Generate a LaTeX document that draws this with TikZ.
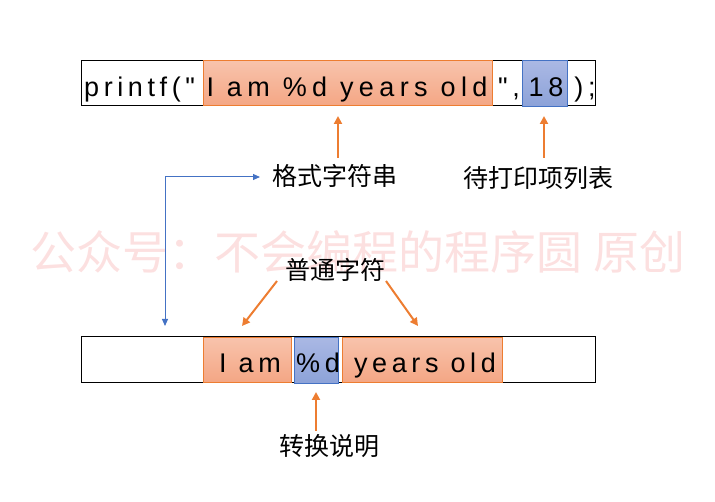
\documentclass[tikz,border=0pt]{standalone}
\usepackage{fontspec}
\usetikzlibrary{arrows.meta}
\newfontfamily\cjk{Noto Sans CJK SC}
\newfontfamily\codefont[LetterSpace=17]{Liberation Sans}
\newfontfamily\codewide[LetterSpace=20]{Liberation Sans}
\definecolor{ora}{RGB}{237,125,49}
\definecolor{blu}{RGB}{68,114,196}
\definecolor{otop}{RGB}{248,195,172}
\definecolor{obot}{RGB}{244,166,132}
\definecolor{btop}{RGB}{170,184,228}
\definecolor{bbot}{RGB}{140,162,216}
\definecolor{wm}{RGB}{252,224,224}
\begin{document}
\begin{tikzpicture}[x=1pt,y=-1pt,
  frame/.style={draw=black,line width=1pt,inner sep=0,outer sep=0},
  obox/.style={draw=ora,line width=1pt,top color=otop,bottom color=obot,inner sep=0,outer sep=0},
  bbox/.style={draw=blu,line width=1pt,top color=btop,bottom color=bbot,inner sep=0,outer sep=0},
  code/.style={font=\codefont\fontsize{27}{27}\selectfont,inner sep=0},
  codew/.style={font=\codewide\fontsize{27}{27}\selectfont,inner sep=0},
  lbl/.style={font=\cjk\fontsize{25}{25}\selectfont,inner sep=0},
  oarr/.style={draw=ora,line width=2pt,-{Triangle[length=8pt,width=8pt]}},
  barr/.style={draw=blu,line width=1pt,{Triangle[length=7pt,width=6pt]}-{Triangle[length=7pt,width=6pt]}}]
\useasboundingbox (0,0) rectangle (715,502);
% watermark
\node[font=\cjk\fontsize{46}{46}\selectfont,text=wm,inner sep=0] (wmark) at (358,252) {公众号：不会编程的程序圆 原创};
% top row
\node[frame,minimum width=514,minimum height=45] (top) at (338,83.5) {};
\node[obox,minimum width=289,minimum height=45] (fmt) at (347.5,83.5) {};
\node[bbox,minimum width=45,minimum height=46] (val) at (544.5,84) {};
\node[code,anchor=base west] (t1) at (84,96.5) {printf("};
\node[codew,anchor=base] (t2) at (347,96.5) {I am \%d years old};
\node[code,anchor=base] (t3) at (509,96.5) {",};
\node[code,anchor=base] (t4) at (546,96.5) {18};
\node[code,anchor=base] (t5) at (585,96.5) {);};
% bottom row
\node[frame,minimum width=514,minimum height=46] (bot) at (338,359.5) {};
\node[obox,minimum width=88,minimum height=45] (ob1) at (247,360) {};
\node[bbox,minimum width=44,minimum height=46] (bb) at (316,360.5) {};
\node[obox,minimum width=160,minimum height=45] (ob2) at (422,360) {};
\node[code,anchor=base] (b1) at (250,373) {I am};
\node[code,anchor=base] (b2) at (318,373) {\%d};
\node[code,anchor=base] (b3) at (425,373) {years old};
% labels
\node[lbl] (l1) at (335,176) {格式字符串};
\node[lbl] (l2) at (538,178) {待打印项列表};
\node[lbl] (l3) at (335,270) {普通字符};
\node[lbl] (l4) at (329,446) {转换说明};
% connectors
\coordinate (a1) at (338,116);
\coordinate (a1s) at (338,158);
\coordinate (a2) at (544,116);
\coordinate (a2s) at (544,158);
\coordinate (bc) at (165,326);
\coordinate (bt) at (260,177);
\coordinate (c1s) at (277,281);
\coordinate (c1) at (242,326);
\coordinate (c2s) at (386,281);
\coordinate (c2) at (418,326);
\coordinate (d1s) at (316,431);
\coordinate (d1) at (316,392);
\draw[oarr] (a1s) -- (a1);
\draw[oarr] (a2s) -- (a2);
\draw[barr] (bc) |- (bt);
\draw[oarr] (c1s) -- (c1);
\draw[oarr] (c2s) -- (c2);
\draw[oarr] (d1s) -- (d1);
\end{tikzpicture}
\end{document}
